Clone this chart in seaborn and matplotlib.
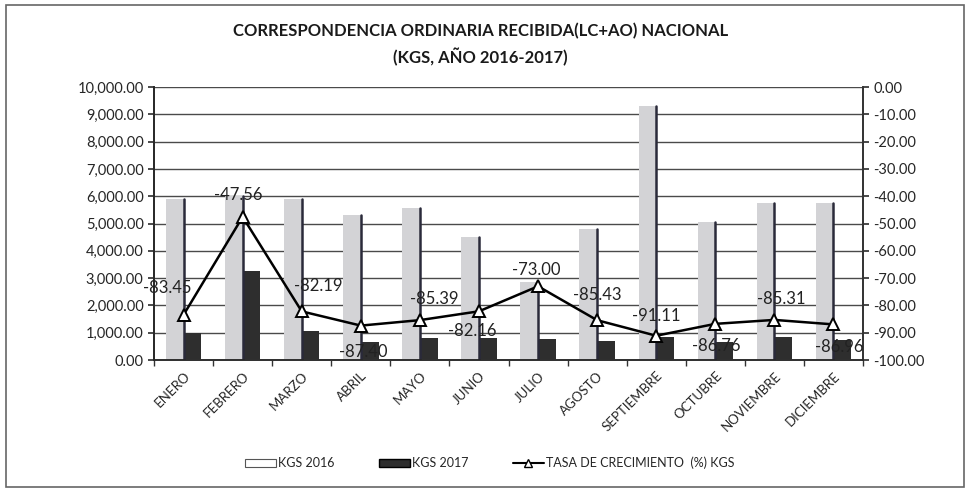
import matplotlib
matplotlib.use("Agg")
import matplotlib.pyplot as plt
from matplotlib.patches import Rectangle
from matplotlib.lines import Line2D
from matplotlib.patches import Patch
import seaborn as sns
import pandas as pd
import numpy as np

# ---------------- data ----------------
months = ["ENERO", "FEBRERO", "MARZO", "ABRIL", "MAYO", "JUNIO", "JULIO",
          "AGOSTO", "SEPTIEMBRE", "OCTUBRE", "NOVIEMBRE", "DICIEMBRE"]
kgs_2016 = [5900, 6000, 5900, 5300, 5550, 4500, 2850, 4800, 9300, 5050, 5750, 5750]
kgs_2017 = [980, 3250, 1050, 670, 810, 800, 770, 700, 830, 670, 850, 750]
tasa = [-83.45, -47.56, -82.19, -87.40, -85.39, -82.16, -73.00, -85.43,
        -91.11, -86.76, -85.31, -86.96]
series_names = ["KGS 2016", "KGS 2017"]
line_name = "TASA DE CRECIMIENTO  (%) KGS"
title_text = "CORRESPONDENCIA ORDINARIA RECIBIDA(LC+AO) NACIONAL\n(KGS, AÑO 2016-2017)"

# label offsets (points) for the data labels of the line
label_offsets = [(-12, 19), (-3, 16), (12, 18), (2, -19), (10, 15), (-5, -14),
                 (-1, 12), (0, 18), (0, 14), (1, -16), (5, 15), (4, -16)]

sns.set_theme(style="white")
plt.rcParams["font.family"] = ["Lato", "DejaVu Sans"]

df = pd.DataFrame({
    "mes": months * 2,
    "kgs": kgs_2016 + kgs_2017,
    "serie": [series_names[0]] * 12 + [series_names[1]] * 12,
})
df_line = pd.DataFrame({"mes": months, "tasa": tasa})

fig = plt.figure(figsize=(9.7, 4.91), dpi=100)
ax = fig.add_axes([0.1588, 0.2668, 0.7309, 0.556])

c2016 = "#d3d3d6"
c2017 = "#2e2e2e"
sns.barplot(data=df, x="mes", y="kgs", hue="serie", order=months,
            hue_order=series_names, palette=[c2016, c2017], width=0.6,
            ax=ax, legend=False, saturation=1, linewidth=0)

# dark right edges on the light 2016 bars (3D look)
for p in ax.patches[:12]:
    x1 = p.get_x() + p.get_width()
    ax.plot([x1, x1], [0, p.get_height()], color="#2a2a3a", lw=1.8, zorder=3)

ax.set_ylim(0, 10000)
ax.set_xlim(-0.5, 11.5)
ax.set_yticks(np.arange(0, 10001, 1000))
ax.set_yticklabels([f"{v:,.2f}" for v in np.arange(0, 10001, 1000)], fontsize=10.5)
ax.yaxis.grid(True, color="#4a4a4a", lw=1.0)
ax.set_axisbelow(True)
ax.set_xlabel("")
ax.set_ylabel("")
ax.set_xticks(np.arange(12))
ax.set_xticklabels(months, rotation=45, ha="right", rotation_mode="anchor",
                   fontsize=9.5)
ax.tick_params(axis="x", length=0, pad=7)
ax.tick_params(axis="y", length=4, color="#333333", left=True)
ax.set_xticks(np.arange(-0.5, 12, 1), minor=True)
ax.tick_params(axis="x", which="minor", length=4, color="#333333", bottom=True)
ax.spines["top"].set_visible(False)
ax.spines["left"].set_color("#333333")
ax.spines["bottom"].set_color("#777777")
ax.spines["right"].set_color("#333333")

ax2 = ax.twinx()
sns.lineplot(data=df_line, x="mes", y="tasa", ax=ax2, color="black", lw=1.8,
             marker="^", markersize=9, markerfacecolor="white",
             markeredgecolor="black", markeredgewidth=1.4, sort=False)
ax2.set_ylim(-100, 0)
ax2.set_yticks(np.arange(-100, 1, 10))
ax2.set_yticklabels([f"{v:.2f}" for v in np.arange(-100, 1, 10)], fontsize=10.5)
ax2.set_ylabel("")
ax2.set_xlabel("")
ax2.tick_params(axis="y", length=4, color="#333333", right=True)
ax2.spines["top"].set_visible(False)
ax2.spines["right"].set_color("#333333")

for i, (v, off) in enumerate(zip(tasa, label_offsets)):
    ax2.annotate(f"{v:.2f}", (i, v), xytext=off, textcoords="offset points",
                 ha="center", va="center", fontsize=12, color="#222222",
                 zorder=5)

fig.text(0.495, 0.909, title_text, ha="center", va="center", fontsize=12,
         fontweight="bold", linespacing=1.55, color="#1a1a1a")

handles = [Patch(facecolor="white", edgecolor="#555555", lw=0.8),
           Patch(facecolor=c2017, edgecolor="black"),
           Line2D([0], [0], color="black", lw=1.5, marker="^", markersize=6,
                  markerfacecolor="white", markeredgecolor="black")]
fig.legend(handles, series_names + [line_name], loc="center",
           bbox_to_anchor=(0.505, 0.057), ncol=3, frameon=False, fontsize=9,
           handlelength=2.5, columnspacing=3.5, handletextpad=0.2)

fig.patches.append(Rectangle((0.006, 0.008), 0.988, 0.982, transform=fig.transFigure,
                             fill=False, edgecolor="#666666", lw=1.2))

fig.savefig("out.png", dpi=100)
